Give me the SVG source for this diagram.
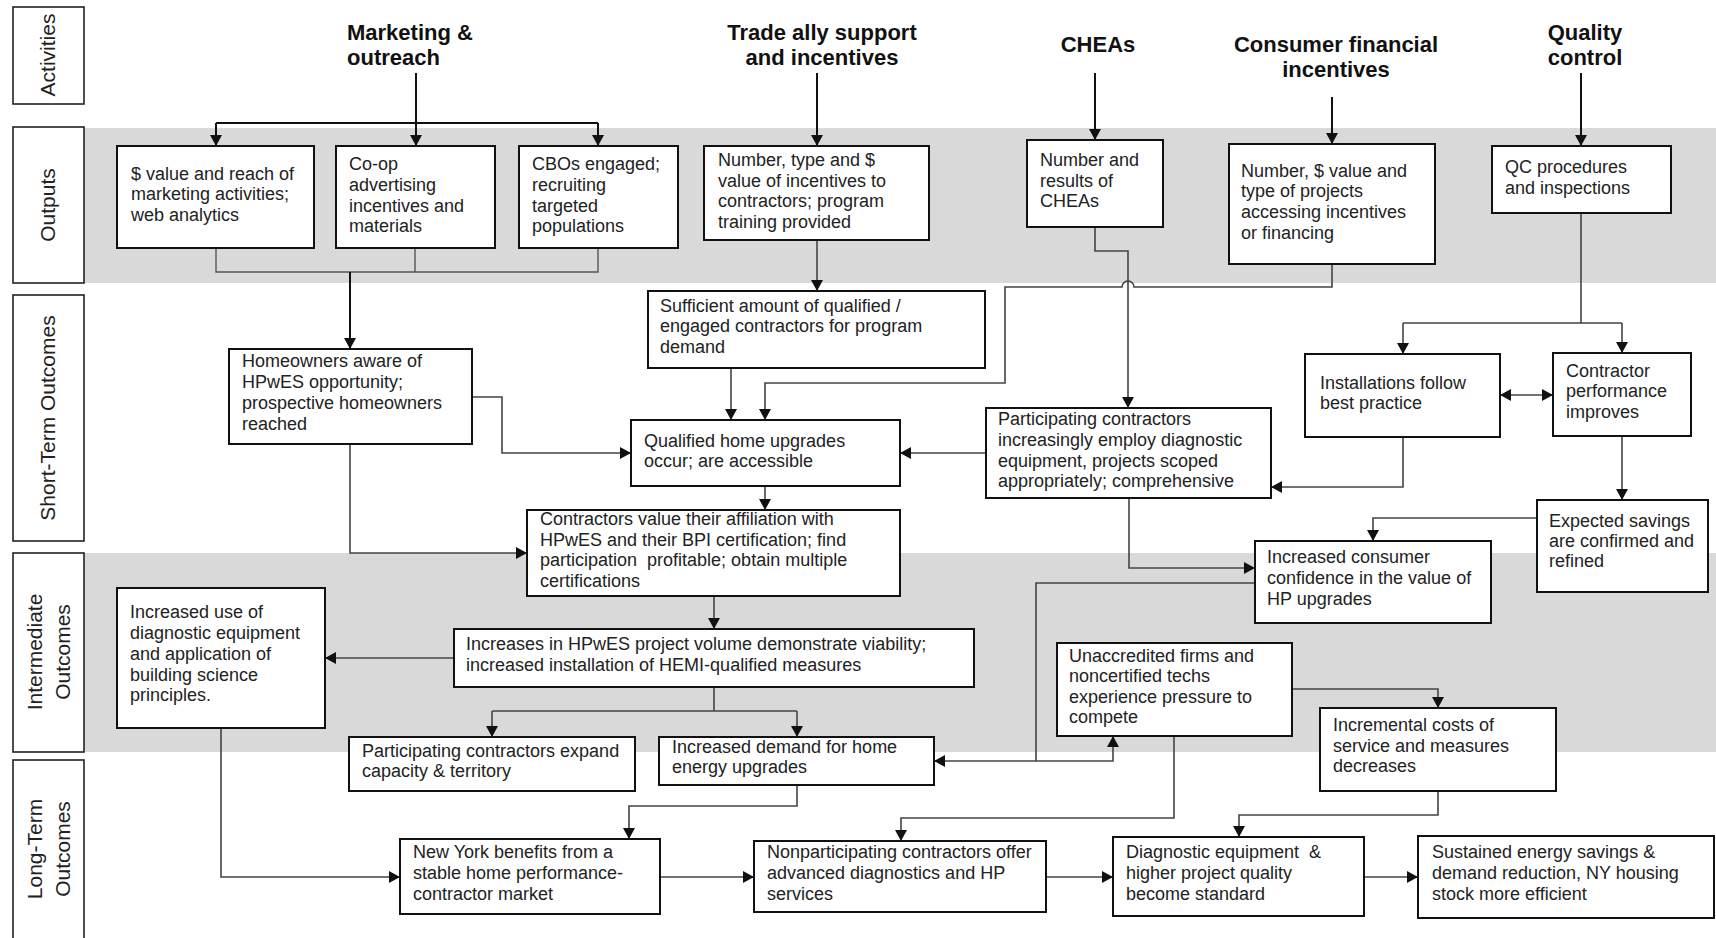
<svg xmlns="http://www.w3.org/2000/svg" width="1716" height="938" viewBox="0 0 1716 938">
<style>
.band{fill:#d9d9d9}
.lane{fill:#fff;stroke:#222;stroke-width:1.6}
.lt{font-family:"Liberation Sans",Arial,sans-serif;font-size:21px;fill:#222;text-anchor:middle}
.ti{font-family:"Liberation Sans",Arial,sans-serif;font-size:22px;font-weight:bold;fill:#111}
.tc{text-anchor:middle}
.box{fill:#fff;stroke:#111;stroke-width:2}
.bt{font-family:"Liberation Sans",Arial,sans-serif;font-size:18px;fill:#222;white-space:pre}
.c{fill:none;stroke:#444;stroke-width:1.6}
.k{fill:none;stroke:#111;stroke-width:2}
.g{fill:none;stroke:#555;stroke-width:1.4}
</style>
<defs>
<marker id="ah" markerUnits="userSpaceOnUse" markerWidth="12" markerHeight="12" refX="11" refY="6" orient="auto-start-reverse">
<path d="M0,0 L11,6 L0,12 z" fill="#111"/>
</marker>
</defs>
<g id="bands">
<rect class="band" x="84" y="128" width="1632" height="155"/>
<rect class="band" x="84" y="553" width="1632" height="199"/>
</g>
<g id="lanes">
<rect class="lane" x="13" y="7" width="71" height="97"/>
<text class="lt" transform="translate(48,55) rotate(-90)" x="0" y="7">Activities</text>
<rect class="lane" x="13" y="127" width="71" height="156"/>
<text class="lt" transform="translate(48,205) rotate(-90)" x="0" y="7">Outputs</text>
<rect class="lane" x="13" y="295" width="71" height="246"/>
<text class="lt" transform="translate(48,418) rotate(-90)" x="0" y="7">Short-Term Outcomes</text>
<rect class="lane" x="13" y="553" width="71" height="199"/>
<text class="lt" transform="translate(48,652) rotate(-90)"><tspan x="0" y="-6.5">Intermediate</tspan><tspan x="0" y="21.5">Outcomes</tspan></text>
<rect class="lane" x="13" y="760" width="71" height="190"/>
<text class="lt" transform="translate(48,849) rotate(-90)"><tspan x="0" y="-6.5">Long-Term</tspan><tspan x="0" y="21.5">Outcomes</tspan></text>
</g>
<g id="activities">
<text class="ti" x="347" y="40">Marketing &amp;</text>
<text class="ti" x="347" y="65">outreach</text>
<text class="ti tc" x="822" y="40">Trade ally support</text>
<text class="ti tc" x="822" y="65">and incentives</text>
<text class="ti tc" x="1098" y="52">CHEAs</text>
<text class="ti tc" x="1336" y="52">Consumer financial</text>
<text class="ti tc" x="1336" y="77">incentives</text>
<text class="ti tc" x="1585" y="40">Quality</text>
<text class="ti tc" x="1585" y="65">control</text>
</g>
<g id="connectors">
<path class="k" d="M416,73 V146" marker-end="url(#ah)"/>
<path class="k" d="M216,123 H598"/>
<path class="k" d="M216,123 V146" marker-end="url(#ah)"/>
<path class="k" d="M598,123 V146" marker-end="url(#ah)"/>
<path class="k" d="M817,73 V146" marker-end="url(#ah)"/>
<path class="k" d="M1095,73 V140" marker-end="url(#ah)"/>
<path class="k" d="M1332,97 V144" marker-end="url(#ah)"/>
<path class="k" d="M1581,73 V146" marker-end="url(#ah)"/>
<path class="g" d="M216,248 V272 H598 V248 M415,248 V272"/>
<path class="k" d="M350,272 V349" marker-end="url(#ah)"/>
<path class="c" d="M817,240 V291" marker-end="url(#ah)"/>
<path class="c" d="M1095,227 V251 H1128 V408" marker-end="url(#ah)"/>
<path class="c" d="M1332,264 V287 H1134 A6,6 0 0 0 1122,287 H1005 V383 H765 V420" marker-end="url(#ah)"/>
<path class="c" d="M1581,213 V323 M1403,323 H1622"/>
<path class="c" d="M1403,323 V354" marker-end="url(#ah)"/>
<path class="c" d="M1622,323 V353" marker-end="url(#ah)"/>
<path class="c" d="M1500,395 H1553" marker-start="url(#ah)" marker-end="url(#ah)"/>
<path class="c" d="M1403,437 V487 H1271" marker-end="url(#ah)"/>
<path class="c" d="M986,453 H900" marker-end="url(#ah)"/>
<path class="c" d="M1129,498 V568 H1255" marker-end="url(#ah)"/>
<path class="c" d="M1622,436 V500" marker-end="url(#ah)"/>
<path class="c" d="M1537,518 H1373 V541" marker-end="url(#ah)"/>
<path class="c" d="M731,368 V420" marker-end="url(#ah)"/>
<path class="c" d="M472,397 H502 V453 H631" marker-end="url(#ah)"/>
<path class="c" d="M350,444 V553 H527" marker-end="url(#ah)"/>
<path class="c" d="M765,486 V510" marker-end="url(#ah)"/>
<path class="c" d="M714,596 V629" marker-end="url(#ah)"/>
<path class="c" d="M454,658 H325" marker-end="url(#ah)"/>
<path class="c" d="M714,687 V711 M492,711 H797"/>
<path class="c" d="M492,711 V737" marker-end="url(#ah)"/>
<path class="c" d="M797,711 V737" marker-end="url(#ah)"/>
<path class="c" d="M1255,583 H1036 V761 H934" marker-end="url(#ah)"/>
<path class="c" d="M1036,761 H1113 V736" marker-end="url(#ah)"/>
<path class="c" d="M1292,689 H1438 V708" marker-end="url(#ah)"/>
<path class="c" d="M1174,736 V818 H901 V841" marker-end="url(#ah)"/>
<path class="c" d="M1438,791 V815 H1239 V837" marker-end="url(#ah)"/>
<path class="c" d="M221,728 V877 H400" marker-end="url(#ah)"/>
<path class="c" d="M797,785 V806 H629 V839" marker-end="url(#ah)"/>
<path class="c" d="M660,877 H754" marker-end="url(#ah)"/>
<path class="c" d="M1046,877 H1113" marker-end="url(#ah)"/>
<path class="c" d="M1364,877 H1418" marker-end="url(#ah)"/>
</g>
<g id="n-value-reach"><rect class="box" x="117" y="146" width="197" height="102"/>
<text class="bt"><tspan x="131" y="180">$ value and reach of</tspan><tspan x="131" y="200">marketing activities;</tspan><tspan x="131" y="221">web analytics</tspan></text></g>
<g id="n-coop"><rect class="box" x="336" y="146" width="159" height="102"/>
<text class="bt"><tspan x="349" y="170">Co-op</tspan><tspan x="349" y="191">advertising</tspan><tspan x="349" y="212">incentives and</tspan><tspan x="349" y="232">materials</tspan></text></g>
<g id="n-cbos"><rect class="box" x="519" y="146" width="159" height="102"/>
<text class="bt"><tspan x="532" y="170">CBOs engaged;</tspan><tspan x="532" y="191">recruiting</tspan><tspan x="532" y="212">targeted</tspan><tspan x="532" y="232">populations</tspan></text></g>
<g id="n-incentives"><rect class="box" x="704" y="146" width="225" height="94"/>
<text class="bt"><tspan x="718" y="166">Number, type and $</tspan><tspan x="718" y="187">value of incentives to</tspan><tspan x="718" y="207">contractors; program</tspan><tspan x="718" y="228">training provided</tspan></text></g>
<g id="n-cheas"><rect class="box" x="1027" y="140" width="136" height="87"/>
<text class="bt"><tspan x="1040" y="166">Number and</tspan><tspan x="1040" y="187">results of</tspan><tspan x="1040" y="207">CHEAs</tspan></text></g>
<g id="n-projects"><rect class="box" x="1229" y="144" width="206" height="120"/>
<text class="bt"><tspan x="1241" y="177">Number, $ value and</tspan><tspan x="1241" y="197">type of projects</tspan><tspan x="1241" y="218">accessing incentives</tspan><tspan x="1241" y="239">or financing</tspan></text></g>
<g id="n-qc"><rect class="box" x="1492" y="146" width="179" height="67"/>
<text class="bt"><tspan x="1505" y="173">QC procedures</tspan><tspan x="1505" y="194">and inspections</tspan></text></g>
<g id="n-sufficient"><rect class="box" x="648" y="291" width="337" height="77"/>
<text class="bt"><tspan x="660" y="312">Sufficient amount of qualified /</tspan><tspan x="660" y="332">engaged contractors for program</tspan><tspan x="660" y="353">demand</tspan></text></g>
<g id="n-homeowners"><rect class="box" x="229" y="349" width="243" height="95"/>
<text class="bt"><tspan x="242" y="367">Homeowners aware of</tspan><tspan x="242" y="388">HPwES opportunity;</tspan><tspan x="242" y="409">prospective homeowners</tspan><tspan x="242" y="430">reached</tspan></text></g>
<g id="n-qualified"><rect class="box" x="631" y="420" width="269" height="66"/>
<text class="bt"><tspan x="644" y="447">Qualified home upgrades</tspan><tspan x="644" y="467">occur; are accessible</tspan></text></g>
<g id="n-participating"><rect class="box" x="986" y="408" width="285" height="90"/>
<text class="bt"><tspan x="998" y="425">Participating contractors</tspan><tspan x="998" y="446">increasingly employ diagnostic</tspan><tspan x="998" y="467">equipment, projects scoped</tspan><tspan x="998" y="487">appropriately; comprehensive</tspan></text></g>
<g id="n-installations"><rect class="box" x="1305" y="354" width="195" height="83"/>
<text class="bt"><tspan x="1320" y="389">Installations follow</tspan><tspan x="1320" y="409">best practice</tspan></text></g>
<g id="n-performance"><rect class="box" x="1553" y="353" width="138" height="83"/>
<text class="bt"><tspan x="1566" y="377">Contractor</tspan><tspan x="1566" y="397">performance</tspan><tspan x="1566" y="418">improves</tspan></text></g>
<g id="n-affiliation"><rect class="box" x="527" y="510" width="373" height="86"/>
<text class="bt"><tspan x="540" y="525">Contractors value their affiliation with</tspan><tspan x="540" y="546">HPwES and their BPI certification; find</tspan><tspan x="540" y="566">participation  profitable; obtain multiple</tspan><tspan x="540" y="587">certifications</tspan></text></g>
<g id="n-savings"><rect class="box" x="1537" y="500" width="171" height="92"/>
<text class="bt"><tspan x="1549" y="527">Expected savings</tspan><tspan x="1549" y="547">are confirmed and</tspan><tspan x="1549" y="567">refined</tspan></text></g>
<g id="n-confidence"><rect class="box" x="1255" y="541" width="236" height="82"/>
<text class="bt"><tspan x="1267" y="563">Increased consumer</tspan><tspan x="1267" y="584">confidence in the value of</tspan><tspan x="1267" y="605">HP upgrades</tspan></text></g>
<g id="n-diag-use"><rect class="box" x="117" y="588" width="208" height="140"/>
<text class="bt"><tspan x="130" y="618">Increased use of</tspan><tspan x="130" y="639">diagnostic equipment</tspan><tspan x="130" y="660">and application of</tspan><tspan x="130" y="681">building science</tspan><tspan x="130" y="701">principles.</tspan></text></g>
<g id="n-volume"><rect class="box" x="454" y="629" width="520" height="58"/>
<text class="bt"><tspan x="466" y="650">Increases in HPwES project volume demonstrate viability;</tspan><tspan x="466" y="671">increased installation of HEMI-qualified measures</tspan></text></g>
<g id="n-unaccredited"><rect class="box" x="1057" y="643" width="235" height="93"/>
<text class="bt"><tspan x="1069" y="662">Unaccredited firms and</tspan><tspan x="1069" y="682">noncertified techs</tspan><tspan x="1069" y="703">experience pressure to</tspan><tspan x="1069" y="723">compete</tspan></text></g>
<g id="n-costs"><rect class="box" x="1320" y="708" width="236" height="83"/>
<text class="bt"><tspan x="1333" y="731">Incremental costs of</tspan><tspan x="1333" y="752">service and measures</tspan><tspan x="1333" y="772">decreases</tspan></text></g>
<g id="n-expand"><rect class="box" x="349" y="737" width="286" height="54"/>
<text class="bt"><tspan x="362" y="757">Participating contractors expand</tspan><tspan x="362" y="777">capacity &amp; territory</tspan></text></g>
<g id="n-demand"><rect class="box" x="659" y="737" width="275" height="48"/>
<text class="bt"><tspan x="672" y="753">Increased demand for home</tspan><tspan x="672" y="773">energy upgrades</tspan></text></g>
<g id="n-ny"><rect class="box" x="400" y="839" width="260" height="75"/>
<text class="bt"><tspan x="413" y="858">New York benefits from a</tspan><tspan x="413" y="879">stable home performance-</tspan><tspan x="413" y="900">contractor market</tspan></text></g>
<g id="n-nonpart"><rect class="box" x="754" y="841" width="292" height="71"/>
<text class="bt"><tspan x="767" y="858">Nonparticipating contractors offer</tspan><tspan x="767" y="879">advanced diagnostics and HP</tspan><tspan x="767" y="900">services</tspan></text></g>
<g id="n-standard"><rect class="box" x="1113" y="837" width="251" height="79"/>
<text class="bt"><tspan x="1126" y="858">Diagnostic equipment  &amp;</tspan><tspan x="1126" y="879">higher project quality</tspan><tspan x="1126" y="900">become standard</tspan></text></g>
<g id="n-sustained"><rect class="box" x="1418" y="836" width="296" height="82"/>
<text class="bt"><tspan x="1432" y="858">Sustained energy savings &amp;</tspan><tspan x="1432" y="879">demand reduction, NY housing</tspan><tspan x="1432" y="900">stock more efficient</tspan></text></g>
</svg>
